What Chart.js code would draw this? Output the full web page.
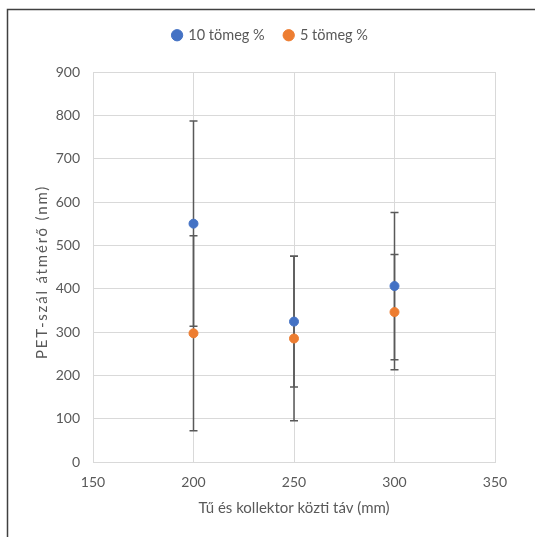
<!DOCTYPE html>
<html>
<head>
    <title>PET-szál átmérő</title>
    <script src="https://cdn.jsdelivr.net/npm/chart.js"></script>
    <style>
        body { margin: 0; background: white; }
        #wrap { width: 535px; height: 537px; }
    </style>
</head>
<body>
    <div id="wrap"><canvas id="chart" width="535" height="537"></canvas></div>

    <script>
        // tű és kollektor közti táv (mm)
        const distances = [200, 250, 300];
        const mass10 = [550, 324, 406];
        const mass10Err = [237, 151, 170];
        const mass5 = [297, 285, 346];
        const mass5Err = [225, 190, 133];
        const seriesLabels = ['10 tömeg %', '5 tömeg %'];
        const xTicks = [150, 200, 250, 300, 350];
        const yTicks = [0, 100, 200, 300, 400, 500, 600, 700, 800, 900];
        const yTitle = 'PET-szál átmérő (nm)';

        const font = "Lato, 'Open Sans', sans-serif";
        const textColor = '#595959';
        const gridColor = '#d9d9d9';

        function toPoints(values, errors) {
            return distances.map((d, i) => ({ x: d, y: values[i], err: errors[i] }));
        }

        // vertical error bars with caps, drawn under the markers
        const errorBars = {
            id: 'errorBars',
            beforeDatasetsDraw(chart) {
                const ctx = chart.ctx;
                const xs = chart.scales.x, ys = chart.scales.y;
                ctx.save();
                ctx.strokeStyle = '#595959';
                ctx.lineWidth = 1.5;
                chart.data.datasets.forEach(ds => {
                    ds.data.forEach(p => {
                        const px = xs.getPixelForValue(p.x);
                        const top = ys.getPixelForValue(p.y + p.err);
                        const bot = ys.getPixelForValue(p.y - p.err);
                        ctx.beginPath();
                        ctx.moveTo(px, top); ctx.lineTo(px, bot);
                        ctx.moveTo(px - 4, top); ctx.lineTo(px + 4, top);
                        ctx.moveTo(px - 4, bot); ctx.lineTo(px + 4, bot);
                        ctx.stroke();
                    });
                });
                ctx.restore();
            }
        };

        // extra gap between legend and plot, legend nudged right
        const legendGap = {
            id: 'legendGap',
            beforeLayout(chart) {
                const lg = chart.legend;
                if (lg && !lg._gapPatched) {
                    const fit = lg.fit;
                    lg.fit = function () { fit.call(this); this.height += 19.5; };
                    lg._gapPatched = true;
                }
            },
            afterLayout(chart) {
                chart.legend.left += 13;
                chart.legend.right += 13;
            }
        };

        // y title drawn by hand to get the wide letter spacing
        const yAxisTitle = {
            id: 'yAxisTitle',
            afterDraw(chart) {
                const ctx = chart.ctx;
                const a = chart.chartArea;
                ctx.save();
                ctx.translate(42, (a.top + a.bottom) / 2 + 5);
                ctx.rotate(-Math.PI / 2);
                ctx.font = '15px ' + font;
                ctx.letterSpacing = '1.8px';
                ctx.fillStyle = textColor;
                ctx.textAlign = 'center';
                ctx.textBaseline = 'middle';
                ctx.fillText(yTitle, 0, 0);
                ctx.restore();
            }
        };

        // outer frame (only left and top edges are in view)
        const frame = {
            id: 'frame',
            afterDraw(chart) {
                const ctx = chart.ctx;
                ctx.save();
                ctx.strokeStyle = '#404040';
                ctx.lineWidth = 1.5;
                ctx.beginPath();
                ctx.moveTo(7.5, 537);
                ctx.lineTo(7.5, 9.5);
                ctx.lineTo(535, 9.5);
                ctx.stroke();
                ctx.restore();
            }
        };

        new Chart(document.getElementById('chart'), {
            type: 'scatter',
            data: {
                datasets: [
                    {
                        label: seriesLabels[0],
                        data: toPoints(mass10, mass10Err),
                        backgroundColor: '#4472C4',
                        borderColor: '#4472C4',
                        pointRadius: 4.5,
                        pointHoverRadius: 4.5
                    },
                    {
                        label: seriesLabels[1],
                        data: toPoints(mass5, mass5Err),
                        backgroundColor: '#ED7D31',
                        borderColor: '#ED7D31',
                        pointRadius: 4.5,
                        pointHoverRadius: 4.5
                    }
                ]
            },
            options: {
                responsive: false,
                animation: false,
                layout: { padding: { left: 20, top: 8, right: 40, bottom: 14 } },
                scales: {
                    x: {
                        type: 'linear',
                        min: 150,
                        max: 350,
                        afterBuildTicks: s => { s.ticks = xTicks.map(v => ({ value: v })); },
                        afterFit: s => { s.height = 537 - 462 - 14; },
                        grid: { color: gridColor, drawTicks: false },
                        border: { color: gridColor },
                        ticks: { color: textColor, font: { family: font, size: 14 }, padding: 12 },
                        title: {
                            display: true,
                            text: 'Tű és kollektor közti táv (mm)',
                            color: textColor,
                            font: { family: font, size: 15 },
                            padding: { top: 0, bottom: 6 }
                        }
                    },
                    y: {
                        min: 0,
                        max: 900,
                        afterBuildTicks: s => { s.ticks = yTicks.map(v => ({ value: v })); },
                        afterFit: s => { s.width = 93 - 20; },
                        grid: { color: gridColor, drawTicks: false },
                        border: { color: gridColor },
                        ticks: { color: textColor, font: { family: font, size: 14 }, padding: 13 }
                    }
                },
                plugins: {
                    legend: {
                        position: 'top',
                        labels: {
                            usePointStyle: true,
                            pointStyle: 'circle',
                            boxWidth: 8,
                            boxHeight: 8,
                            padding: 20,
                            color: textColor,
                            font: { family: font, size: 14.5 }
                        }
                    },
                    tooltip: { enabled: false }
                }
            },
            plugins: [errorBars, legendGap, yAxisTitle, frame]
        });
    </script>
</body>
</html>
